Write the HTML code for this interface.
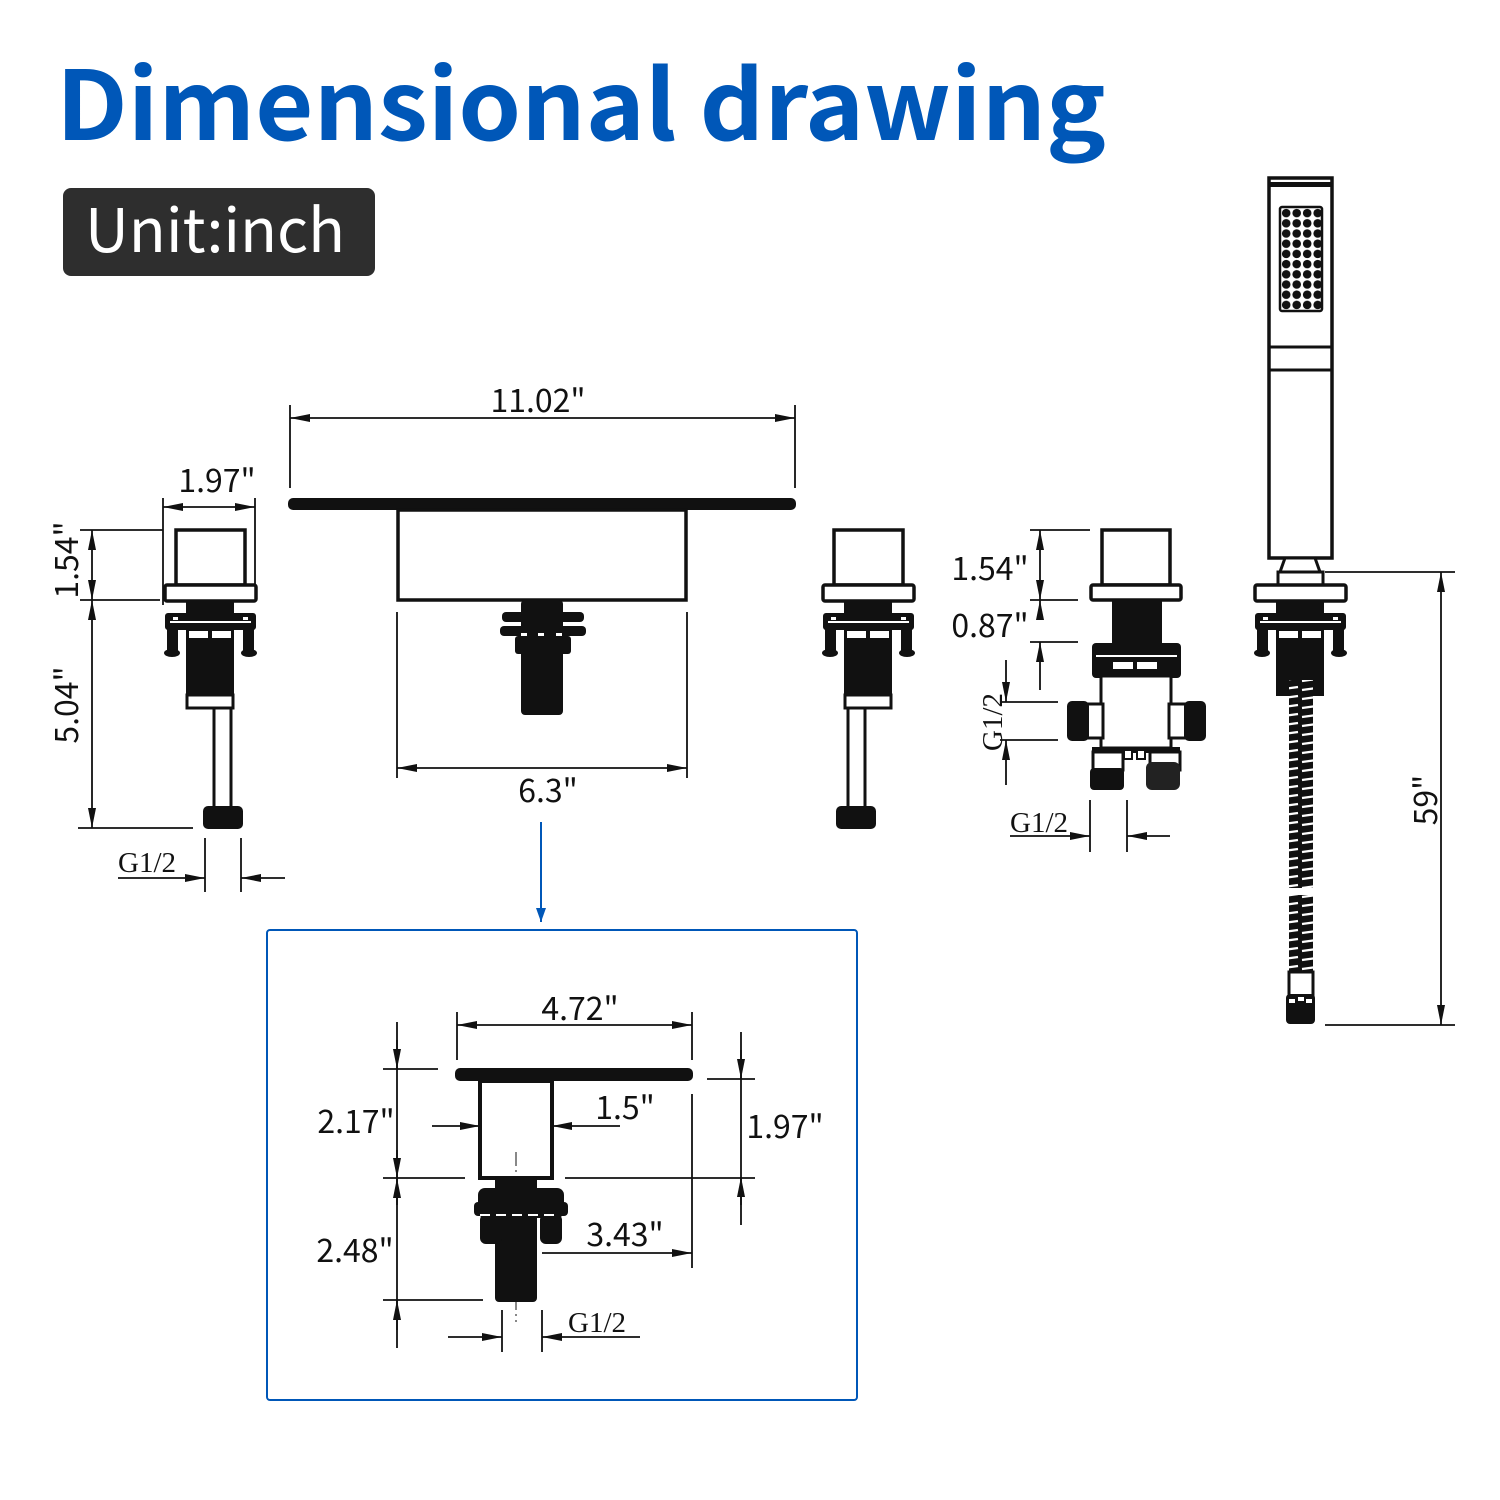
<!DOCTYPE html>
<html><head><meta charset="utf-8"><style>
html,body{margin:0;padding:0;background:#fff}
svg{display:block}
.t{font-family:"Noto Sans CJK SC","Liberation Sans",sans-serif;font-size:32px;fill:#111}
.s{font-family:"Liberation Serif",serif;font-size:29px;fill:#111}
</style></head><body>
<svg width="1500" height="1500" viewBox="0 0 1500 1500" xmlns="http://www.w3.org/2000/svg">
<defs>
<marker id="a" viewBox="0 0 20 10" refX="20" refY="5" markerWidth="20" markerHeight="10" markerUnits="userSpaceOnUse" orient="auto"><path d="M0,1 L20,5 L0,9 z" fill="#111"/></marker>
<marker id="b" viewBox="0 0 14 10" refX="14" refY="5" markerWidth="14" markerHeight="10" markerUnits="userSpaceOnUse" orient="auto"><path d="M0,0 L14,5 L0,10 z" fill="#0057b8"/></marker>
<pattern id="hose" width="26" height="9" patternUnits="userSpaceOnUse"><rect width="26" height="9" fill="#111"/><path d="M2,6 L24,3" stroke="#fff" stroke-width="2.2"/></pattern>
<pattern id="dot" x="1281" y="208" width="10.5" height="10.2" patternUnits="userSpaceOnUse"><rect width="10.5" height="10.2" fill="#fff"/><circle cx="5.2" cy="5.1" r="4.3" fill="#111"/></pattern>
<g id="hb">
<rect x="-45" y="585" width="91" height="16" rx="2" fill="#fff" stroke="#111" stroke-width="3.5"/>
<rect x="-24" y="601" width="48" height="14" fill="#111"/>
<rect x="-45" y="613" width="91" height="17" rx="3" fill="#111"/>
<rect x="-40" y="621" width="81" height="2" fill="#fff"/>
<rect x="-37" y="617" width="5" height="3" fill="#fff"/><rect x="33" y="617" width="5" height="3" fill="#fff"/>
<rect x="-43" y="628" width="11" height="25" fill="#111"/><rect x="33" y="628" width="11" height="25" fill="#111"/>
<ellipse cx="-38" cy="653" rx="8" ry="4" fill="#111"/><ellipse cx="39" cy="653" rx="8" ry="4" fill="#111"/>
<rect x="-24" y="628" width="48" height="68" fill="#111"/>
<rect x="-21" y="631" width="19" height="7" fill="#fff"/><rect x="2" y="631" width="19" height="7" fill="#fff"/>
</g>
<g id="hd">
<rect x="-34" y="530" width="69" height="55" fill="#fff" stroke="#111" stroke-width="3.5"/>
<use href="#hb"/>
<rect x="-23" y="695" width="46" height="13" fill="#fff" stroke="#111" stroke-width="3"/>
</g>
</defs>

<text x="56" y="140" font-family="'Noto Sans CJK SC','Liberation Sans',sans-serif" font-weight="bold" font-size="96" fill="#0057b8" textLength="1050" lengthAdjust="spacingAndGlyphs">Dimensional drawing</text>
<rect x="63" y="188" width="312" height="88" rx="8" fill="#2e2e2e"/>
<text x="85" y="252" font-family="'Noto Sans CJK SC','Liberation Sans',sans-serif" font-size="60" fill="#fff" textLength="260" lengthAdjust="spacingAndGlyphs">Unit:inch</text>

<g stroke="#111" stroke-width="1.8" fill="none">
<line x1="163" y1="498" x2="163" y2="605"/><line x1="255" y1="498" x2="255" y2="585"/>
<line x1="209" y1="507" x2="163" y2="507" marker-end="url(#a)"/><line x1="209" y1="507" x2="255" y2="507" marker-end="url(#a)"/>
<line x1="80" y1="530" x2="163" y2="530"/><line x1="80" y1="600" x2="160" y2="600"/><line x1="78" y1="828" x2="193" y2="828"/>
<line x1="92" y1="565" x2="92" y2="530" marker-end="url(#a)"/><line x1="92" y1="565" x2="92" y2="600" marker-end="url(#a)"/>
<line x1="92" y1="700" x2="92" y2="600" marker-end="url(#a)"/><line x1="92" y1="700" x2="92" y2="828" marker-end="url(#a)"/>
<line x1="205" y1="838" x2="205" y2="892"/><line x1="241" y1="838" x2="241" y2="892"/>
<line x1="118" y1="878" x2="205" y2="878" marker-end="url(#a)"/><line x1="285" y1="878" x2="241" y2="878" marker-end="url(#a)"/>
<line x1="290" y1="405" x2="290" y2="488"/><line x1="795" y1="405" x2="795" y2="488"/>
<line x1="540" y1="418" x2="290" y2="418" marker-end="url(#a)"/><line x1="540" y1="418" x2="795" y2="418" marker-end="url(#a)"/>
<line x1="397" y1="612" x2="397" y2="778"/><line x1="687" y1="612" x2="687" y2="778"/>
<line x1="542" y1="768" x2="397" y2="768" marker-end="url(#a)"/><line x1="542" y1="768" x2="687" y2="768" marker-end="url(#a)"/>
<line x1="1030" y1="530" x2="1090" y2="530"/><line x1="1030" y1="600" x2="1078" y2="600"/><line x1="1030" y1="642" x2="1078" y2="642"/>
<line x1="1040" y1="565" x2="1040" y2="530" marker-end="url(#a)"/><line x1="1040" y1="565" x2="1040" y2="600" marker-end="url(#a)"/>
<line x1="1040" y1="620" x2="1040" y2="600" marker-end="url(#a)"/><line x1="1040" y1="690" x2="1040" y2="642" marker-end="url(#a)"/>
<line x1="1000" y1="702" x2="1058" y2="702"/><line x1="1000" y1="740" x2="1058" y2="740"/>
<line x1="1006" y1="660" x2="1006" y2="702" marker-end="url(#a)"/><line x1="1006" y1="785" x2="1006" y2="740" marker-end="url(#a)"/>
<line x1="1090" y1="800" x2="1090" y2="852"/><line x1="1127" y1="800" x2="1127" y2="852"/>
<line x1="1010" y1="836" x2="1090" y2="836" marker-end="url(#a)"/><line x1="1170" y1="836" x2="1127" y2="836" marker-end="url(#a)"/>
<line x1="1325" y1="572" x2="1455" y2="572"/><line x1="1325" y1="1025" x2="1455" y2="1025"/>
<line x1="1441" y1="800" x2="1441" y2="572" marker-end="url(#a)"/><line x1="1441" y1="800" x2="1441" y2="1025" marker-end="url(#a)"/>
</g>
<text class="t" x="538" y="412" text-anchor="middle">11.02"</text>
<text class="t" x="217" y="492" text-anchor="middle">1.97"</text>
<text class="t" x="548" y="802" text-anchor="middle">6.3"</text>
<text class="t" transform="translate(78,560) rotate(-90)" text-anchor="middle">1.54"</text>
<text class="t" transform="translate(78,705) rotate(-90)" text-anchor="middle">5.04"</text>
<text class="s" x="118" y="872">G1/2</text>
<text class="t" x="990" y="580" text-anchor="middle">1.54"</text>
<text class="t" x="990" y="637" text-anchor="middle">0.87"</text>
<text class="s" transform="translate(1002,722) rotate(-90)" text-anchor="middle">G1/2</text>
<text class="s" x="1010" y="832">G1/2</text>
<text class="t" transform="translate(1437,800) rotate(-90)" text-anchor="middle">59"</text>

<use href="#hd" transform="translate(210,0)"/>
<rect x="214" y="708" width="17" height="102" fill="#fff" stroke="#111" stroke-width="3"/>
<rect x="203" y="806" width="40" height="23" rx="5" fill="#111"/>
<use href="#hd" transform="translate(868,0)"/>
<rect x="848" y="708" width="17" height="102" fill="#fff" stroke="#111" stroke-width="3"/>
<rect x="836" y="806" width="40" height="23" rx="5" fill="#111"/>

<rect x="288" y="498" width="508" height="12" rx="5" fill="#111"/>
<rect x="398" y="510" width="288" height="90" fill="#fff" stroke="#111" stroke-width="3.5"/>
<rect x="521" y="600" width="42" height="115" rx="4" fill="#111"/>
<rect x="502" y="612" width="82" height="10" rx="4" fill="#111"/>
<rect x="500" y="626" width="86" height="10" rx="4" fill="#111"/>
<rect x="515" y="636" width="56" height="18" rx="3" fill="#111"/>
<rect x="521" y="633" width="6" height="3" fill="#fff"/><rect x="538" y="633" width="6" height="3" fill="#fff"/><rect x="556" y="633" width="6" height="3" fill="#fff"/>

<line x1="541" y1="822" x2="541" y2="922" stroke="#0057b8" stroke-width="2" marker-end="url(#b)"/>
<rect x="267" y="930" width="590" height="470" rx="3" fill="none" stroke="#0057b8" stroke-width="2"/>

<rect x="1102" y="530" width="68" height="55" fill="#fff" stroke="#111" stroke-width="3.5"/>
<rect x="1091" y="585" width="90" height="15" rx="2" fill="#fff" stroke="#111" stroke-width="3.5"/>
<rect x="1112" y="600" width="50" height="46" fill="#111"/>
<rect x="1092" y="643" width="89" height="35" rx="4" fill="#111"/>
<rect x="1096" y="655" width="81" height="2" fill="#fff"/>
<rect x="1113" y="662" width="20" height="7" fill="#fff"/><rect x="1137" y="662" width="20" height="7" fill="#fff"/>
<rect x="1101" y="676" width="70" height="72" fill="#fff" stroke="#111" stroke-width="3"/>
<rect x="1085" y="704" width="18" height="34" fill="#fff" stroke="#111" stroke-width="3"/>
<rect x="1169" y="704" width="18" height="34" fill="#fff" stroke="#111" stroke-width="3"/>
<rect x="1067" y="701" width="22" height="40" rx="5" fill="#111"/>
<rect x="1184" y="701" width="22" height="40" rx="5" fill="#111"/>
<rect x="1092" y="747" width="88" height="6" fill="#111"/>
<rect x="1093" y="752" width="30" height="18" fill="#fff" stroke="#111" stroke-width="3"/>
<rect x="1150" y="752" width="30" height="18" fill="#fff" stroke="#111" stroke-width="3"/>
<rect x="1124" y="750" width="8" height="9" fill="#fff" stroke="#111" stroke-width="2"/><rect x="1137" y="750" width="8" height="9" fill="#fff" stroke="#111" stroke-width="2"/>
<rect x="1090" y="768" width="34" height="22" rx="4" fill="#111"/>
<rect x="1146" y="762" width="34" height="28" rx="6" fill="#222"/>

<!-- hand shower -->
<rect x="1269" y="178" width="63" height="380" fill="#fff" stroke="#111" stroke-width="3.5"/>
<rect x="1269" y="182" width="63" height="5" fill="#111"/>
<rect x="1280" y="207" width="42" height="104" rx="2" fill="url(#dot)" stroke="#111" stroke-width="2.5"/>
<line x1="1269" y1="347" x2="1332" y2="347" stroke="#111" stroke-width="3"/>
<line x1="1269" y1="370" x2="1332" y2="370" stroke="#111" stroke-width="3"/>
<path d="M1285,558 L1315,558 L1320,572 L1280,572 z" fill="#fff" stroke="#111" stroke-width="3"/>
<rect x="1278" y="572" width="45" height="13" fill="#fff" stroke="#111" stroke-width="3"/>
<use href="#hb" transform="translate(1300,0)"/>
<rect x="1276" y="650" width="48" height="30" rx="3" fill="#111"/>
<rect x="1289" y="680" width="24" height="208" fill="url(#hose)"/>
<rect x="1289" y="895" width="24" height="78" fill="url(#hose)"/>
<rect x="1289" y="972" width="24" height="24" fill="#fff" stroke="#111" stroke-width="3"/>
<rect x="1286" y="994" width="29" height="30" rx="4" fill="#111"/>
<rect x="1289" y="999" width="6" height="4" fill="#fff"/><rect x="1298" y="997" width="6" height="4" fill="#fff"/><rect x="1306" y="999" width="6" height="4" fill="#fff"/>

<!-- inset -->
<rect x="455" y="1068" width="238" height="13" rx="5" fill="#111"/>
<rect x="480" y="1081" width="72" height="97" fill="#fff" stroke="#111" stroke-width="4"/>
<rect x="495" y="1176" width="42" height="126" rx="4" fill="#111"/>
<rect x="478" y="1188" width="86" height="30" rx="7" fill="#111"/>
<rect x="474" y="1202" width="94" height="14" rx="4" fill="#111"/>
<rect x="480" y="1214" width="22" height="30" rx="6" fill="#111"/><rect x="540" y="1214" width="22" height="30" rx="6" fill="#111"/>
<g fill="#fff"><rect x="480" y="1214" width="10" height="2"/><rect x="496" y="1214" width="10" height="2"/><rect x="512" y="1214" width="10" height="2"/><rect x="528" y="1214" width="10" height="2"/><rect x="544" y="1214" width="10" height="2"/></g>
<line x1="516" y1="1152" x2="516" y2="1322" stroke="#111" stroke-width="1" stroke-dasharray="14,4,2,4"/>
<g stroke="#111" stroke-width="1.8" fill="none">
<line x1="457" y1="1012" x2="457" y2="1060"/><line x1="692" y1="1012" x2="692" y2="1060"/><line x1="692" y1="1094" x2="692" y2="1268"/>
<line x1="575" y1="1025" x2="457" y2="1025" marker-end="url(#a)"/><line x1="575" y1="1025" x2="692" y2="1025" marker-end="url(#a)"/>
<line x1="383" y1="1069" x2="438" y2="1069"/><line x1="383" y1="1178" x2="465" y2="1178"/><line x1="383" y1="1300" x2="483" y2="1300"/>
<line x1="565" y1="1178" x2="755" y2="1178"/><line x1="707" y1="1079" x2="755" y2="1079"/>
<line x1="397" y1="1022" x2="397" y2="1348"/>
<line x1="397" y1="1040" x2="397" y2="1069" marker-end="url(#a)"/><line x1="397" y1="1150" x2="397" y2="1178" marker-end="url(#a)"/>
<line x1="397" y1="1205" x2="397" y2="1178" marker-end="url(#a)"/><line x1="397" y1="1330" x2="397" y2="1300" marker-end="url(#a)"/>
<line x1="741" y1="1032" x2="741" y2="1225"/>
<line x1="741" y1="1050" x2="741" y2="1079" marker-end="url(#a)"/><line x1="741" y1="1205" x2="741" y2="1177" marker-end="url(#a)"/>
<line x1="432" y1="1126" x2="480" y2="1126" marker-end="url(#a)"/><line x1="620" y1="1126" x2="552" y2="1126" marker-end="url(#a)"/>
<line x1="542" y1="1253" x2="692" y2="1253" marker-end="url(#a)"/>
<line x1="502" y1="1310" x2="502" y2="1352"/><line x1="542" y1="1310" x2="542" y2="1352"/>
<line x1="448" y1="1337" x2="502" y2="1337" marker-end="url(#a)"/><line x1="640" y1="1337" x2="542" y2="1337" marker-end="url(#a)"/>
</g>
<text class="t" x="580" y="1020" text-anchor="middle">4.72"</text>
<text class="t" x="356" y="1133" text-anchor="middle">2.17"</text>
<text class="t" x="355" y="1262" text-anchor="middle">2.48"</text>
<text class="t" x="625" y="1119" text-anchor="middle">1.5"</text>
<text class="t" x="785" y="1138" text-anchor="middle">1.97"</text>
<text class="t" x="625" y="1246" text-anchor="middle">3.43"</text>
<text class="s" x="568" y="1332">G1/2</text>
</svg>
</body></html>
